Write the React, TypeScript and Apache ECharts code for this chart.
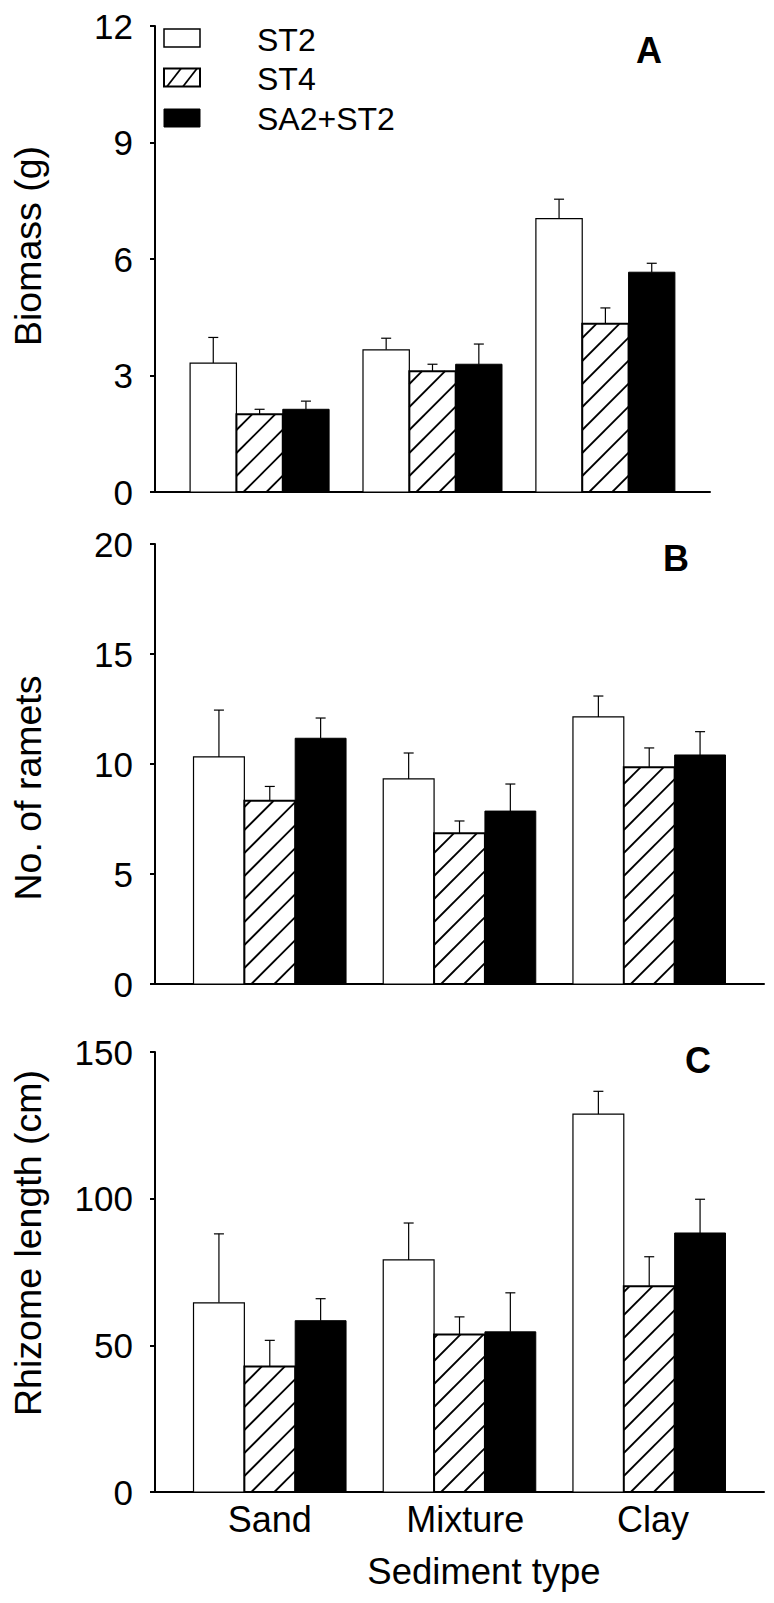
import React, { useEffect, useRef } from "react";
import * as echarts from "echarts";

// ---------- data ----------
const categories = ["Sand", "Mixture", "Clay"];
const seriesNames = ["ST2", "ST4", "SA2+ST2"];

// Panel A: Biomass (g)
const biomassST2 = [3.32, 3.66, 7.04];
const biomassST2Err = [0.66, 0.3, 0.5];
const biomassST4 = [2.0, 3.11, 4.33];
const biomassST4Err = [0.13, 0.18, 0.41];
const biomassSA2 = [2.13, 3.29, 5.66];
const biomassSA2Err = [0.21, 0.52, 0.23];

// Panel B: No. of ramets
const rametsST2 = [10.32, 9.32, 12.14];
const rametsST2Err = [2.13, 1.18, 0.95];
const rametsST4 = [8.33, 6.85, 9.85];
const rametsST4Err = [0.65, 0.56, 0.88];
const rametsSA2 = [11.17, 7.86, 10.41];
const rametsSA2Err = [0.92, 1.23, 1.06];

// Panel C: Rhizome length (cm)
const rhizomeST2 = [64.5, 79.1, 128.8];
const rhizomeST2Err = [23.5, 12.6, 7.8];
const rhizomeST4 = [42.8, 53.7, 70.1];
const rhizomeST4Err = [8.9, 6.0, 10.1];
const rhizomeSA2 = [58.4, 54.6, 88.3];
const rhizomeSA2Err = [7.5, 13.3, 11.5];

const yTicksA = { min: 0, max: 12, interval: 3 };
const yTicksB = { min: 0, max: 20, interval: 5 };
const yTicksC = { min: 0, max: 150, interval: 50 };

// category label anchor positions on the x axis (labels sit slightly right of group centres)
const categoryLabelAt = [0, 1.03, 2.02];

const FONT = "'Liberation Sans', Arial, sans-serif";
const BW = 0.268; // bar width in category units
const X_MIN = -0.605;
const X_MAX = 2.605;

function hatchLines(x0: number, y0: number, x1: number, y1: number, spacing: number, phase: number, lw: number) {
  const out: any[] = [];
  let c = x0 + y1 + phase;
  while (c - spacing > x0 + y0) c -= spacing;
  for (; c < x1 + y1; c += spacing) {
    const xa = Math.max(x0, c - y1);
    const xb = Math.min(x1, c - y0);
    if (xb - xa < 0.5) continue;
    out.push({
      type: "line",
      shape: { x1: xa, y1: c - xa, x2: xb, y2: c - xb },
      style: { stroke: "#000", lineWidth: lw },
      silent: true,
    });
  }
  return out;
}

function makeRender(k: number) {
  return (params: any, api: any) => {
    const c = api.value(0);
    const v = api.value(1);
    const e = api.value(2);
    const xc = c + (k - 1) * BW;
    const pTL = api.coord([xc - BW / 2, v]);
    const pBR = api.coord([xc + BW / 2, 0]);
    const pErr = api.coord([xc, v + e]);
    const x0 = pTL[0];
    const y0 = pTL[1];
    const x1 = pBR[0];
    const y1 = pBR[1];
    const xm = (x0 + x1) / 2;
    const children: any[] = [];
    children.push({
      type: "line",
      shape: { x1: xm, y1: y0, x2: xm, y2: pErr[1] },
      style: { stroke: "#000", lineWidth: 1.2 },
    });
    children.push({
      type: "line",
      shape: { x1: xm - 5, y1: pErr[1], x2: xm + 5, y2: pErr[1] },
      style: { stroke: "#000", lineWidth: 1.2 },
    });
    if (k === 0) {
      children.push({
        type: "rect",
        shape: { x: x0, y: y0, width: x1 - x0, height: y1 - y0 },
        style: { fill: "#fff", stroke: "#000", lineWidth: 1.2 },
      });
    } else if (k === 1) {
      children.push({
        type: "rect",
        shape: { x: x0, y: y0, width: x1 - x0, height: y1 - y0 },
        style: { fill: "#fff", stroke: "none" },
      });
      hatchLines(x0, y0, x1, y1, 23, 7, 1.8).forEach((l) => children.push(l));
      children.push({
        type: "rect",
        shape: { x: x0, y: y0, width: x1 - x0, height: y1 - y0 },
        style: { fill: "none", stroke: "#000", lineWidth: 2 },
      });
    } else {
      children.push({
        type: "rect",
        shape: { x: x0, y: y0, width: x1 - x0, height: y1 - y0 },
        style: { fill: "#000", stroke: "#000", lineWidth: 1 },
      });
    }
    return { type: "group", children };
  };
}

function toItems(mean: number[], err: number[]) {
  return categories.map((_, i) => [i, mean[i], err[i]]);
}

export default function App() {
  const ref = useRef<HTMLDivElement>(null);

  useEffect(() => {
    if (!ref.current) return;
    const chart = echarts.init(ref.current, undefined, { renderer: "svg" });

    const grids = [
      { left: 155, top: 26, width: 555, height: 466 },
      { left: 155, top: 544, width: 609, height: 440 },
      { left: 155, top: 1052, width: 609, height: 440 },
    ];
    const yTicks = [yTicksA, yTicksB, yTicksC];

    const xAxes = grids.map((_, i) => ({
      type: "value",
      gridIndex: i,
      min: X_MIN,
      max: X_MAX,
      axisLine: { show: true, onZero: false, lineStyle: { color: "#000", width: 2 } },
      axisTick: { show: false },
      splitLine: { show: false },
      axisLabel:
        i === 2
          ? {
              show: true,
              customValues: categoryLabelAt,
              formatter: (val: number) => categories[Math.round(val)] ?? "",
              fontSize: 36,
              fontFamily: FONT,
              color: "#000",
              margin: 9,
            }
          : { show: false },
    }));

    const yAxes = grids.map((_, i) => ({
      type: "value",
      gridIndex: i,
      min: yTicks[i].min,
      max: yTicks[i].max,
      interval: yTicks[i].interval,
      axisLine: { show: true, onZero: false, lineStyle: { color: "#000", width: 2 } },
      axisTick: { show: true, inside: false, length: 5, lineStyle: { color: "#000", width: 2 } },
      splitLine: { show: false },
      axisLabel: { fontSize: 35, fontFamily: FONT, color: "#000", margin: 22 },
    }));

    const panelData = [
      [toItems(biomassST2, biomassST2Err), toItems(biomassST4, biomassST4Err), toItems(biomassSA2, biomassSA2Err)],
      [toItems(rametsST2, rametsST2Err), toItems(rametsST4, rametsST4Err), toItems(rametsSA2, rametsSA2Err)],
      [toItems(rhizomeST2, rhizomeST2Err), toItems(rhizomeST4, rhizomeST4Err), toItems(rhizomeSA2, rhizomeSA2Err)],
    ];

    const series: any[] = [];
    panelData.forEach((sets, p) => {
      sets.forEach((data, k) => {
        series.push({
          type: "custom",
          name: seriesNames[k],
          xAxisIndex: p,
          yAxisIndex: p,
          data,
          encode: { x: 0, y: 1 },
          renderItem: makeRender(k),
          silent: true,
          clip: false,
          z: 2 + k,
        });
      });
    });

    const legendY = [29, 68.5, 109];
    const legendTextY = [39.5, 79, 119];
    const legendGraphics: any[] = [];
    legendY.forEach((y, k) => {
      if (k === 0) {
        legendGraphics.push({
          type: "rect",
          shape: { x: 164, y, width: 36, height: 18 },
          style: { fill: "#fff", stroke: "#000", lineWidth: 1.5 },
        });
      } else if (k === 1) {
        legendGraphics.push({
          type: "rect",
          shape: { x: 164, y, width: 36, height: 18 },
          style: { fill: "#fff", stroke: "#000", lineWidth: 2 },
        });
        legendGraphics.push({
          type: "line",
          shape: { x1: 167, y1: y + 18, x2: 181, y2: y },
          style: { stroke: "#000", lineWidth: 1.8 },
        });
        legendGraphics.push({
          type: "line",
          shape: { x1: 183, y1: y + 18, x2: 197, y2: y },
          style: { stroke: "#000", lineWidth: 1.8 },
        });
      } else {
        legendGraphics.push({
          type: "rect",
          shape: { x: 164, y, width: 36, height: 18 },
          style: { fill: "#000", stroke: "#000", lineWidth: 1 },
        });
      }
      legendGraphics.push({
        type: "text",
        x: 257,
        y: legendTextY[k],
        style: {
          text: seriesNames[k],
          font: `32px ${FONT}`,
          fill: "#000",
          textAlign: "left",
          textVerticalAlign: "middle",
        },
      });
    });

    const textEl = (text: string, x: number, y: number, size: number, bold = false, rot = 0) => ({
      type: "text",
      x,
      y,
      rotation: rot,
      style: {
        text,
        font: `${bold ? "bold " : ""}${size}px ${FONT}`,
        fill: "#000",
        textAlign: "center",
        textVerticalAlign: "middle",
      },
    });

    const graphics = [
      ...legendGraphics,
      textEl("A", 649, 50, 36, true),
      textEl("B", 676, 558, 36, true),
      textEl("C", 698, 1060, 36, true),
      textEl("Biomass (g)", 28, 246, 37.5, false, Math.PI / 2),
      textEl("No. of ramets", 28, 788, 37.5, false, Math.PI / 2),
      textEl("Rhizome length (cm)", 28, 1243, 37.5, false, Math.PI / 2),
      textEl("Sediment type", 484, 1571, 36.5, false),
    ];

    chart.setOption({
      animation: false,
      backgroundColor: "#fff",
      grid: grids.map((g) => ({ ...g, containLabel: false })),
      xAxis: xAxes,
      yAxis: yAxes,
      series,
      graphic: graphics,
    });

    return () => {
      chart.dispose();
    };
  }, []);

  return (
    <div
      ref={ref}
      style={{ position: "absolute", left: 0, top: 0, width: 774, height: 1603, background: "#fff" }}
    />
  );
}
